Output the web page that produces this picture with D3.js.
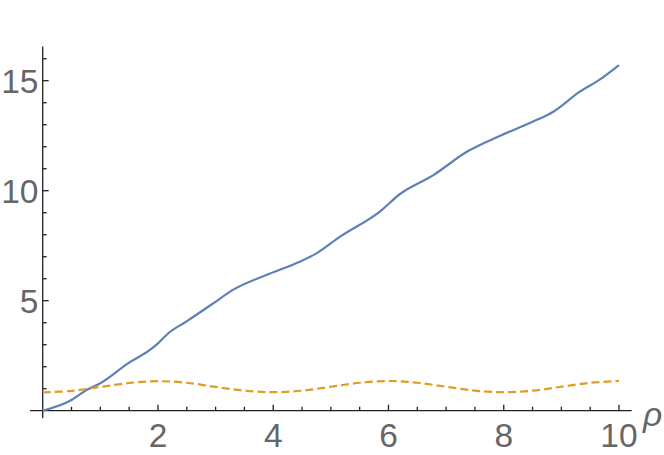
<!DOCTYPE html>
<html lang="en">
<head>
  <meta charset="UTF-8">
  <title>rho plot</title>
  <script src="https://d3js.org/d3.v7.min.js"></script>
  <style>
    body { margin: 0; background: #fff; }
    svg { display: block; }
    .tick-label { font-family: "Liberation Sans", Arial, sans-serif; font-size: 33.5px; fill: #666; }
    .axis-line { stroke: #222; stroke-width: 1.3px; }
  </style>
</head>
<body>
  <div id="chart"></div>
  <script>
    const width = 664, height = 455;

    // solid (blue) curve
    const rhoSolid = [0, 0.5, 0.76, 1.0, 1.48, 1.86, 2.0, 2.18, 2.49, 2.96, 3.3, 3.88, 4.46, 4.75, 5.16, 5.85, 6.2, 6.78, 7.36, 7.93, 8.51, 8.86, 9.32, 9.67, 10];
    const valSolid = [0, 0.49, 0.94, 1.25, 2.15, 2.76, 3.06, 3.52, 4.05, 4.88, 5.49, 6.17, 6.77, 7.15, 7.91, 9.05, 9.85, 10.71, 11.77, 12.49, 13.14, 13.59, 14.5, 15.06, 15.71];

    // dashed (orange) curve
    const rhoDashed = [0, 0.5, 1, 1.5, 2, 2.5, 3, 3.5, 4, 4.5, 5, 5.5, 6, 6.5, 7, 7.5, 8, 8.5, 9, 9.5, 10];
    const valDashed = [0.83, 0.9, 1.08, 1.26, 1.34, 1.27, 1.08, 0.91, 0.84, 0.91, 1.09, 1.27, 1.35, 1.27, 1.09, 0.91, 0.84, 0.91, 1.09, 1.27, 1.35];

    const xMajor = [2, 4, 6, 8, 10];
    const yMajor = [5, 10, 15];

    const x = d3.scaleLinear().domain([0, 10]).range([42.7, 619]);
    const y = d3.scaleLinear().domain([0, 15]).range([410.7, 80.7]);

    const svg = d3.select("#chart")
      .append("svg")
      .attr("width", width)
      .attr("height", height);

    // axes lines
    svg.append("line").attr("class", "axis-line")
      .attr("x1", x(-0.22)).attr("x2", x(10.22))
      .attr("y1", y(0)).attr("y2", y(0));
    svg.append("line").attr("class", "axis-line")
      .attr("x1", x(0)).attr("x2", x(0))
      .attr("y1", y(-0.34)).attr("y2", y(16.55));

    // x ticks (major + minor every 0.5)
    const xTicks = d3.range(0.5, 10.01, 0.5);
    svg.append("g").selectAll("line")
      .data(xTicks)
      .enter().append("line")
      .attr("class", "axis-line")
      .attr("x1", d => x(d)).attr("x2", d => x(d))
      .attr("y1", y(0))
      .attr("y2", d => y(0) - (xMajor.includes(d) ? 6 : 4));

    svg.append("g").selectAll("text")
      .data(xMajor)
      .enter().append("text")
      .attr("class", "tick-label")
      .attr("x", d => x(d))
      .attr("y", 447)
      .attr("text-anchor", "middle")
      .text(d => d);

    // y ticks (major + minor every 1)
    const yTicks = d3.range(1, 16.01, 1);
    svg.append("g").selectAll("line")
      .data(yTicks)
      .enter().append("line")
      .attr("class", "axis-line")
      .attr("x1", x(0))
      .attr("x2", d => x(0) + (yMajor.includes(d) ? 6 : 4))
      .attr("y1", d => y(d)).attr("y2", d => y(d));

    svg.append("g").selectAll("text")
      .data(yMajor)
      .enter().append("text")
      .attr("class", "tick-label")
      .attr("x", 38.5)
      .attr("y", d => y(d) + 12.2)
      .attr("text-anchor", "end")
      .text(d => d);

    // axis label
    svg.append("text")
      .attr("class", "tick-label")
      .attr("x", 643)
      .attr("y", 426)
      .style("font-style", "italic")
      .text("ρ");

    const line = d3.line()
      .x(d => x(d[0]))
      .y(d => y(d[1]))
      .curve(d3.curveMonotoneX);

    svg.append("path")
      .datum(d3.zip(rhoSolid, valSolid))
      .attr("fill", "none")
      .attr("stroke", "#5e81b5")
      .attr("stroke-width", 2.2)
      .attr("d", line);

    svg.append("path")
      .datum(d3.zip(rhoDashed, valDashed))
      .attr("fill", "none")
      .attr("stroke", "#e19c24")
      .attr("stroke-width", 2.2)
      .attr("stroke-dasharray", "8,4")
      .attr("d", line.curve(d3.curveCatmullRom));
  </script>
</body>
</html>
